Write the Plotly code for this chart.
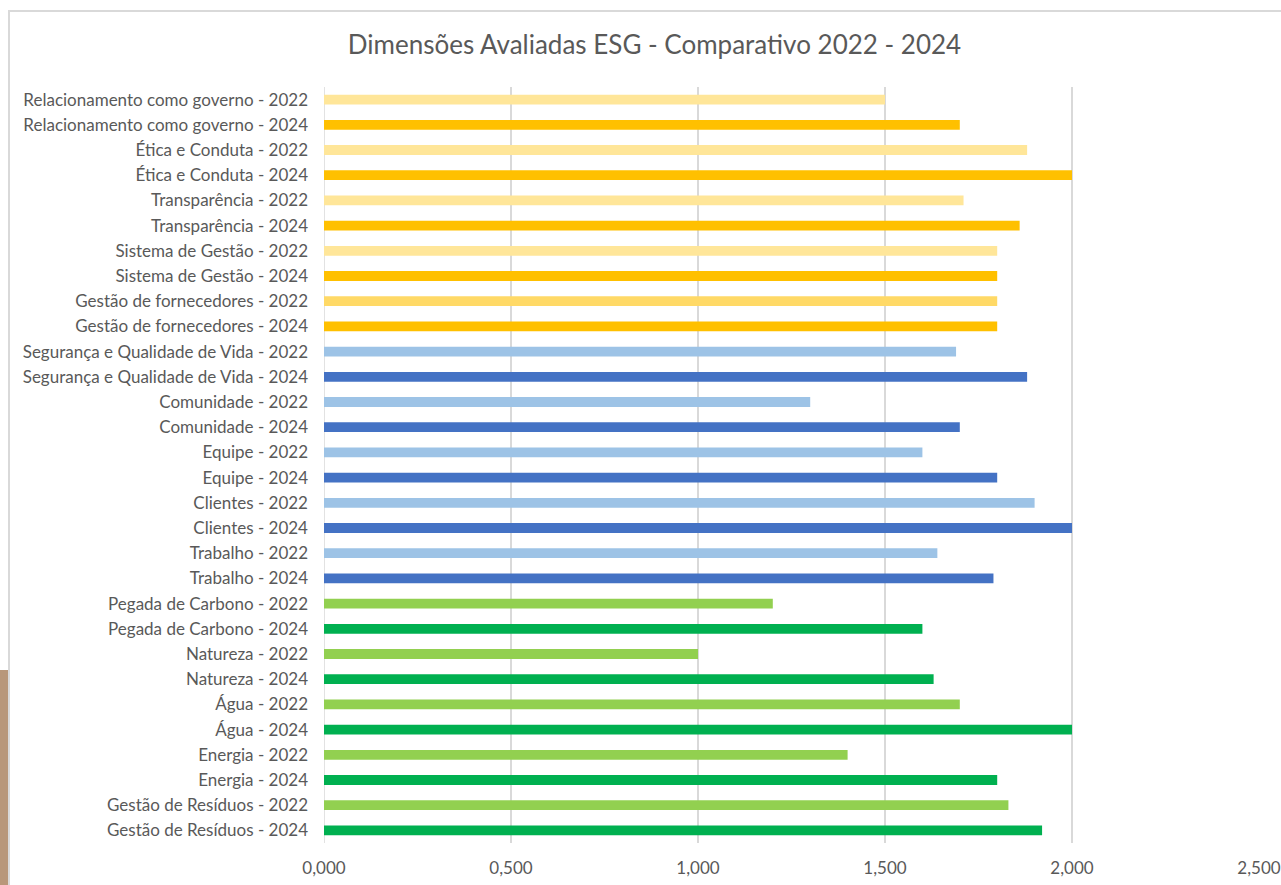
import plotly.graph_objects as go

categories = [
    "Relacionamento como governo - 2022",
    "Relacionamento como governo - 2024",
    "Ética e Conduta - 2022",
    "Ética e Conduta - 2024",
    "Transparência - 2022",
    "Transparência - 2024",
    "Sistema de Gestão - 2022",
    "Sistema de Gestão - 2024",
    "Gestão de fornecedores - 2022",
    "Gestão de fornecedores - 2024",
    "Segurança e Qualidade de Vida - 2022",
    "Segurança e Qualidade de Vida - 2024",
    "Comunidade - 2022",
    "Comunidade - 2024",
    "Equipe - 2022",
    "Equipe - 2024",
    "Clientes - 2022",
    "Clientes - 2024",
    "Trabalho - 2022",
    "Trabalho - 2024",
    "Pegada de Carbono - 2022",
    "Pegada de Carbono - 2024",
    "Natureza - 2022",
    "Natureza - 2024",
    "Água - 2022",
    "Água - 2024",
    "Energia - 2022",
    "Energia - 2024",
    "Gestão de Resíduos - 2022",
    "Gestão de Resíduos - 2024",
]

values = [
    1.50, 1.70,
    1.88, 2.00,
    1.71, 1.86,
    1.80, 1.80,
    1.80, 1.80,
    1.69, 1.88,
    1.30, 1.70,
    1.60, 1.80,
    1.90, 2.00,
    1.64, 1.79,
    1.20, 1.60,
    1.00, 1.63,
    1.70, 2.00,
    1.40, 1.80,
    1.83, 1.92,
]

x_tick_values = [0, 0.5, 1.0, 1.5, 2.0, 2.5]

# styles
Y22, Y24, Y22b = "#FFE699", "#FFC000", "#FFD966"
B22, B24 = "#9DC3E6", "#4472C4"
G22, G24 = "#92D050", "#00B050"
colors = [Y22, Y24, Y22, Y24, Y22, Y24, Y22, Y24, Y22b, Y24,
          B22, B24, B22, B24, B22, B24, B22, B24, B22, B24,
          G22, G24, G22, G24, G22, G24, G22, G24, G22, G24]

W, H = 1281, 885
L, R, T, B = 324, 22, 87, 42
pw, ph = W - L - R, H - T - B

def px(x):
    return (x - L) / pw

def py(y):
    return (H - B - y) / ph

fig = go.Figure(go.Bar(
    y=categories, x=values, orientation="h",
    marker=dict(color=colors, line=dict(width=0)),
    width=0.39,
))

font = "Lato, 'Open Sans', sans-serif"
fig.update_layout(
    width=W, height=H,
    margin=dict(l=L, r=R, t=T, b=B, autoexpand=False),
    paper_bgcolor="white", plot_bgcolor="white",
    separators=",.",
    showlegend=False,
    title=dict(text="Dimensões Avaliadas ESG - Comparativo 2022 - 2024",
               x=654.5 / W, xanchor="center", y=1 - 45 / H, yanchor="middle",
               font=dict(family=font, size=26, color="#595959")),
    font=dict(family=font, size=17, color="#595959"),
    shapes=[
        dict(type="rect", xref="paper", yref="paper",
             x0=px(9), x1=px(1300), y0=py(11), y1=py(900),
             line=dict(color="#D9D9D9", width=2), fillcolor="rgba(0,0,0,0)", layer="below"),
        dict(type="rect", xref="paper", yref="paper",
             x0=px(-5), x1=px(8), y0=py(670), y1=py(900),
             line=dict(width=0), fillcolor="#B8977A", layer="below"),
    ],
)
fig.update_xaxes(range=[0, 2.5], tickvals=x_tick_values, tickformat=".3f",
                 showgrid=True, gridcolor="#D9D9D9", gridwidth=1.5,
                 zeroline=False, showline=False, ticks="", automargin=False,
                 ticklabelstandoff=13,
                 tickfont=dict(size=17, color="#595959"))
fig.update_yaxes(categoryorder="array", categoryarray=categories,
                 autorange="reversed", showgrid=False, ticks="", automargin=False,
                 showline=False, zeroline=False, ticklabelstandoff=15,
                 tickfont=dict(size=17, color="#595959"))
fig.add_vline(x=0, line=dict(color="#D9D9D9", width=1.5), layer="below")

fig.write_html("out.html", config={"displayModeBar": False},
               post_script="document.body.style.margin='0';document.body.style.padding='0';document.documentElement.style.overflow='hidden';")
